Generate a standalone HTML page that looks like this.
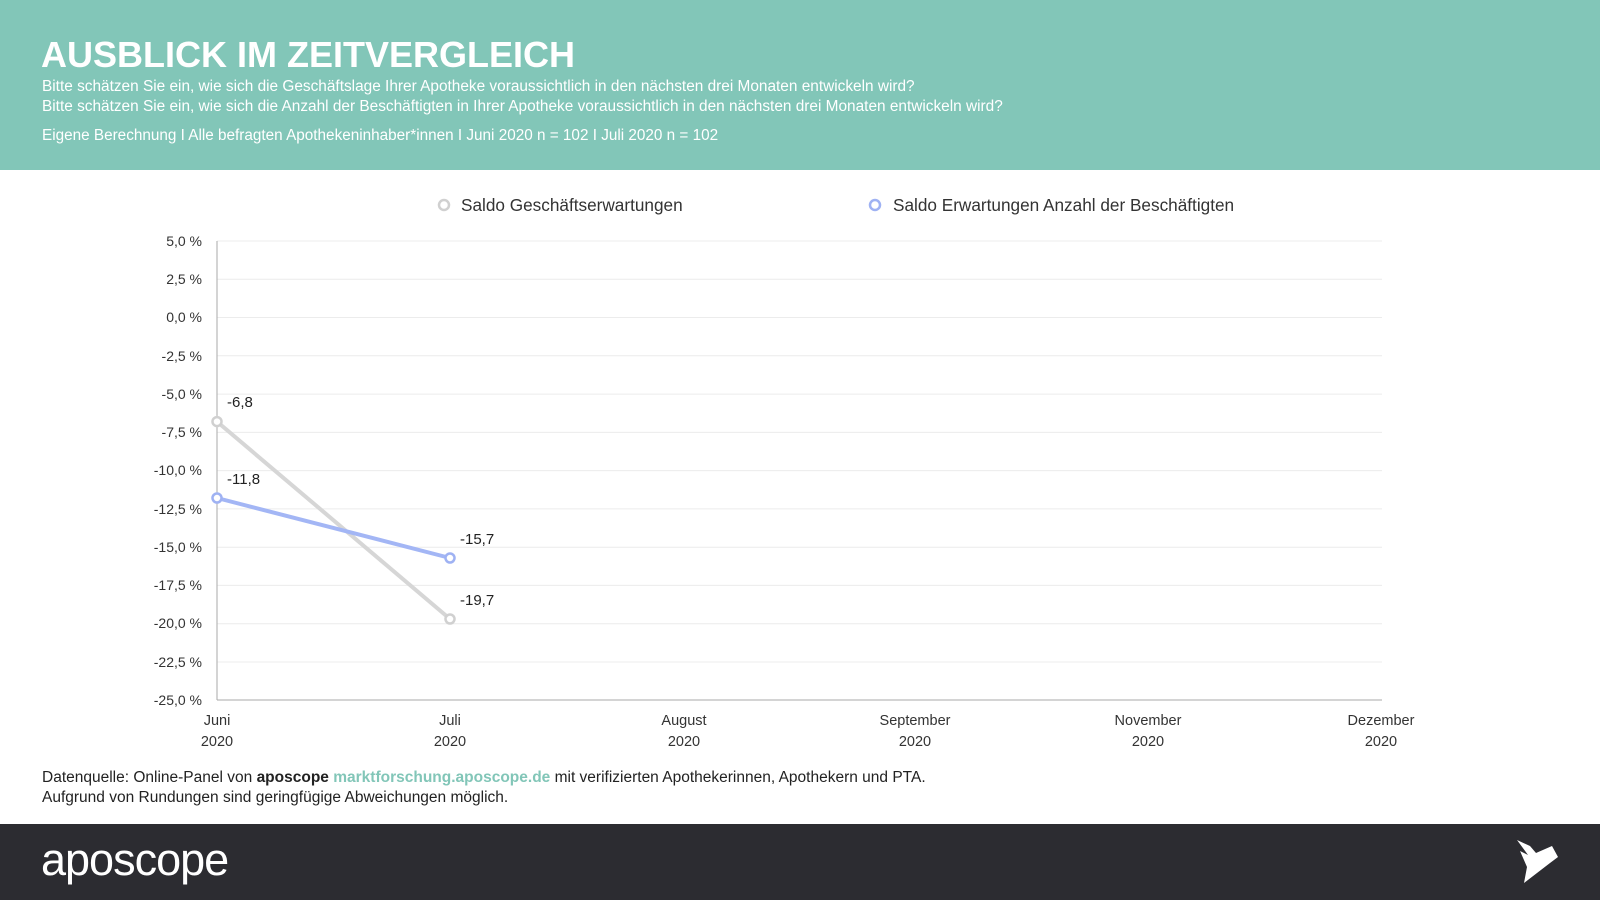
<!DOCTYPE html>
<html><head><meta charset="utf-8"><style>
*{margin:0;padding:0}
body{width:1600px;height:900px;overflow:hidden;background:#fff;font-family:"Liberation Sans",sans-serif;position:relative}
.hd{position:absolute;left:0;top:0;width:1600px;height:170px;background:#82c6b8;color:#fff}
.hd h1{position:absolute;left:41px;top:34px;font-size:36px;font-weight:bold;letter-spacing:0px}
.hd p{position:absolute;left:42px;font-size:15.4px;white-space:nowrap}
.ft{position:absolute;left:0;top:824px;width:1600px;height:76px;background:#2c2c31}
.src{position:absolute;left:42px;font-size:15.5px;color:#222;white-space:nowrap}
</style></head><body>
<div class="hd">
<h1>AUSBLICK IM ZEITVERGLEICH</h1>
<p style="top:78px">Bitte schätzen Sie ein, wie sich die Geschäftslage Ihrer Apotheke voraussichtlich in den nächsten drei Monaten entwickeln wird?</p>
<p style="top:98px">Bitte schätzen Sie ein, wie sich die Anzahl der Beschäftigten in Ihrer Apotheke voraussichtlich in den nächsten drei Monaten entwickeln wird?</p>
<p style="top:127px;font-size:15.3px">Eigene Berechnung I Alle befragten Apothekeninhaber*innen I Juni 2020 n = 102 I Juli 2020 n = 102</p>
</div>
<svg width="1600" height="900" style="position:absolute;left:0;top:0" font-family="Liberation Sans, sans-serif">
<g stroke="#ececec" stroke-width="1">
<line x1="217" x2="1382" y1="241" y2="241"/><line x1="217" x2="1382" y1="279.3" y2="279.3"/><line x1="217" x2="1382" y1="317.5" y2="317.5"/><line x1="217" x2="1382" y1="355.8" y2="355.8"/><line x1="217" x2="1382" y1="394.1" y2="394.1"/><line x1="217" x2="1382" y1="432.4" y2="432.4"/><line x1="217" x2="1382" y1="470.6" y2="470.6"/><line x1="217" x2="1382" y1="508.9" y2="508.9"/><line x1="217" x2="1382" y1="547.2" y2="547.2"/><line x1="217" x2="1382" y1="585.4" y2="585.4"/><line x1="217" x2="1382" y1="623.7" y2="623.7"/><line x1="217" x2="1382" y1="662" y2="662"/>
</g>
<line x1="217" x2="217" y1="241" y2="700" stroke="#aaa"/>
<line x1="217" x2="1382" y1="700" y2="700" stroke="#aaa"/>
<g font-size="14" fill="#333" text-anchor="end">
<text x="202" y="246">5,0 %</text><text x="202" y="284">2,5 %</text><text x="202" y="322">0,0 %</text><text x="202" y="361">-2,5 %</text><text x="202" y="399">-5,0 %</text><text x="202" y="437">-7,5 %</text><text x="202" y="475">-10,0 %</text><text x="202" y="514">-12,5 %</text><text x="202" y="552">-15,0 %</text><text x="202" y="590">-17,5 %</text><text x="202" y="628">-20,0 %</text><text x="202" y="667">-22,5 %</text><text x="202" y="705">-25,0 %</text>
</g>
<g font-size="14.5" fill="#333" text-anchor="middle">
<text x="217" y="725">Juni</text><text x="217" y="746">2020</text>
<text x="450" y="725">Juli</text><text x="450" y="746">2020</text>
<text x="684" y="725">August</text><text x="684" y="746">2020</text>
<text x="915" y="725">September</text><text x="915" y="746">2020</text>
<text x="1148" y="725">November</text><text x="1148" y="746">2020</text>
<text x="1381" y="725">Dezember</text><text x="1381" y="746">2020</text>
</g>
<line x1="217" y1="421.6" x2="450" y2="619" stroke="#d6d6d6" stroke-width="4"/>
<line x1="217" y1="498" x2="450" y2="558" stroke="#a3b6f5" stroke-width="4"/>
<g fill="#fff" stroke-width="2.5">
<circle cx="217" cy="421.6" r="4.5" stroke="#d0d0d0"/><circle cx="450" cy="619" r="4.5" stroke="#d0d0d0"/>
<circle cx="217" cy="498" r="4.5" stroke="#9fb2f3"/><circle cx="450" cy="558" r="4.5" stroke="#9fb2f3"/>
</g>
<g font-size="15" fill="#222">
<text x="227" y="407">-6,8</text><text x="227" y="484">-11,8</text><text x="460" y="544">-15,7</text><text x="460" y="605">-19,7</text>
</g>
<circle cx="444" cy="205" r="5" fill="#fff" stroke="#d0d0d0" stroke-width="2.5"/>
<text x="461" y="211" font-size="17.2" fill="#333">Saldo Geschäftserwartungen</text>
<circle cx="875" cy="205" r="5" fill="#fff" stroke="#9fb2f3" stroke-width="2.5"/>
<text x="893" y="211" font-size="17.2" fill="#333">Saldo Erwartungen Anzahl der Beschäftigten</text>
</svg>
<div class="src" style="top:769px">Datenquelle: Online-Panel von <b>aposcope</b> <b style="color:#82c6b8">marktforschung.aposcope.de</b> mit verifizierten Apothekerinnen, Apothekern und PTA.</div>
<div class="src" style="top:789px">Aufgrund von Rundungen sind geringfügige Abweichungen möglich.</div>
<div class="ft">
<div style="position:absolute;left:41px;top:10px;color:#fff;font-size:45px;letter-spacing:-1px">aposcope</div>
<svg width="50" height="50" style="position:absolute;left:1514px;top:13px"><polygon points="3,3 16,9 22,16 38,9 44,20 36,26 10,46 13,30 6,14 14,18" fill="#fff"/></svg>
</div>
</body></html>
